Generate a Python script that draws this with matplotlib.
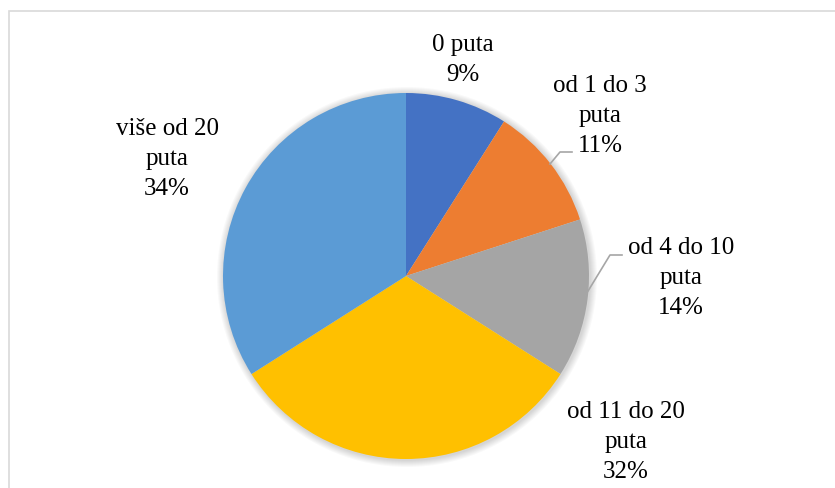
import matplotlib.pyplot as plt
from matplotlib.patches import Circle, Rectangle

# Data
categories = ['0 puta', 'od 1 do 3\nputa', 'od 4 do 10\nputa', 'od 11 do 20\nputa', 'više od 20\nputa']
shares = [9, 11, 14, 32, 34]
colors = ['#4472C4', '#ED7D31', '#A5A5A5', '#FFC000', '#5B9BD5']

# Label placement (pixel coords, y from top) and leader lines
label_pos = [(463, 60), (600, 116), (681, 278), (626, 442), (167, 159)]
leaders = {1: [(550, 165), (560, 153), (572, 153)],
           2: [(585, 297), (610, 256), (622, 256)]}

W, H = 835, 489
cx, cy, r = 406, 277, 183

fig = plt.figure(figsize=(W / 100, H / 100), dpi=100)
ax = fig.add_axes([0, 0, 1, 1])

# light frame around chart area (cut off right and bottom)
ax.add_patch(Rectangle((8.5, -20), W + 40, H - 11.5 + 20, fill=False,
                       edgecolor='#D9D9D9', linewidth=1.2))

# soft shadow behind the pie
for i in range(7):
    ax.add_patch(Circle((cx + 1, H - cy - 1), r + 1 + i, color='black',
                        alpha=0.025, linewidth=0, zorder=1))

wedges, _ = ax.pie(shares, colors=colors, startangle=90, counterclock=False,
                   center=(cx, H - cy), radius=r, frame=True,
                   wedgeprops=dict(linewidth=0, zorder=2))
ax.set_xlim(0, W)
ax.set_ylim(0, H)
ax.axis('off')

for i, (cat, val) in enumerate(zip(categories, shares)):
    x, y = label_pos[i]
    ax.text(x, H - y, f'{cat}\n{val}%', ha='center', va='center',
            fontsize=18, family='Liberation Serif', linespacing=1.45,
            color='black', zorder=5)

for pts in leaders.values():
    xs = [p[0] for p in pts]
    ys = [H - p[1] for p in pts]
    ax.plot(xs, ys, color='#A6A6A6', linewidth=1.2, zorder=4)

fig.savefig('out.png', dpi=100)
